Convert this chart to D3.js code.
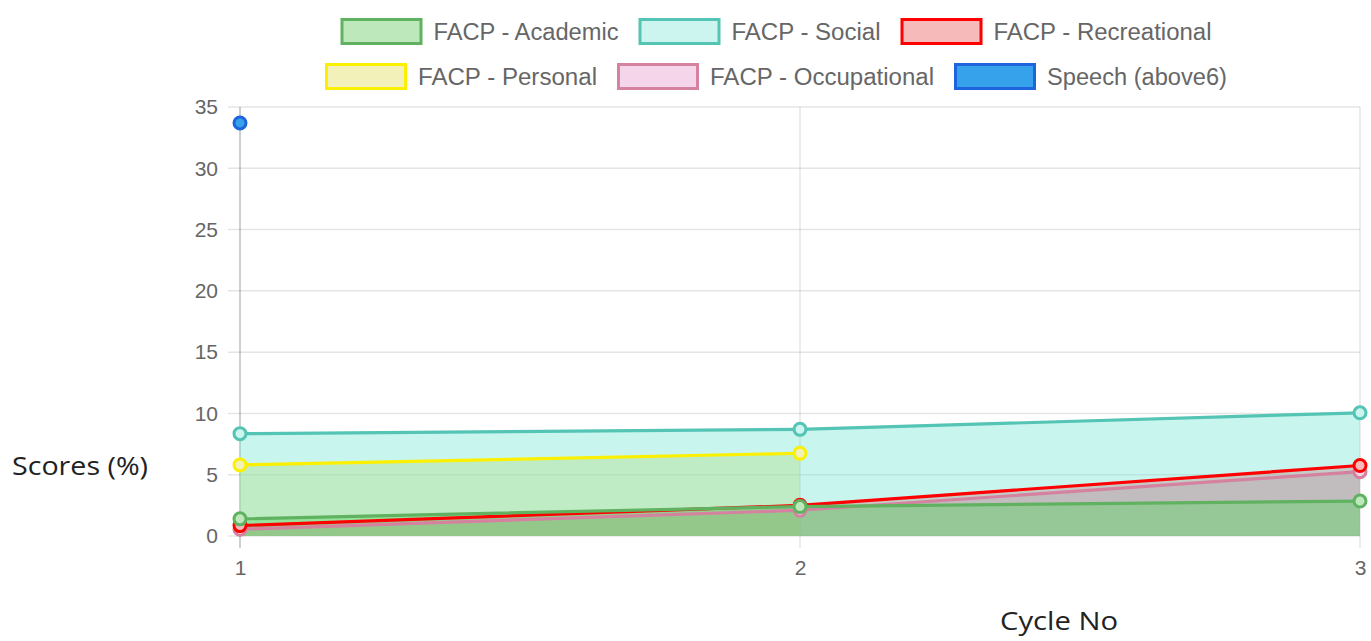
<!DOCTYPE html>
<html><head><meta charset="utf-8">
<script src="https://cdn.jsdelivr.net/npm/d3@7"></script>
<style>html,body{margin:0;padding:0;background:#fff;overflow:hidden}</style>
</head><body>
<svg id="chart" width="1371" height="641"></svg>
<script>
const cycles = [1, 2, 3];
const academic = [1.4, 2.4, 2.85];
const social = [8.35, 8.7, 10.05];
const recreational = [0.85, 2.5, 5.75];
const personal = [5.8, 6.75, null];
const occupational = [0.55, 2.1, 5.25];
const speech = [33.7, null, null];
const yTicks = [0, 5, 10, 15, 20, 25, 30, 35];
const seriesNames = ["FACP - Academic", "FACP - Social", "FACP - Recreational", "FACP - Personal", "FACP - Occupational", "Speech (above6)"];

const styles = [
  {stroke: "rgb(96,178,96)", fill: "rgba(86,215,92,0.4)", legendFill: "rgb(188,232,188)"},
  {stroke: "rgb(84,196,180)", fill: "rgba(120,230,215,0.4)", legendFill: "rgb(204,245,239)"},
  {stroke: "rgb(255,0,0)", fill: "rgba(240,100,100,0.45)", legendFill: "rgb(247,186,186)"},
  {stroke: "rgb(250,240,0)", fill: "rgba(220,220,80,0.4)", legendFill: "rgb(241,241,185)"},
  {stroke: "rgb(212,130,160)", fill: "rgba(230,150,200,0.4)", legendFill: "rgb(245,213,233)"},
  {stroke: "rgb(30,100,220)", fill: "rgb(54,162,235)", legendFill: "rgb(54,162,235)"}
];
const seriesData = [academic, social, recreational, personal, occupational, speech];
const legendTextWidths = [185, 149, 218, 179, 224, 180];

const svg = d3.select("#chart");
const x = d3.scalePoint().domain(cycles).range([240, 1360]);
const y = d3.scaleLinear().domain([0, 35]).range([536, 107]);

// grid
const grid = svg.append("g");
yTicks.forEach(t => {
  grid.append("line").attr("x1", 228).attr("x2", 1360).attr("y1", y(t)).attr("y2", y(t))
    .attr("stroke", "rgba(0,0,0,0.1)").attr("stroke-width", 1.5);
});
cycles.forEach((c, i) => {
  grid.append("line").attr("x1", x(c)).attr("x2", x(c)).attr("y1", 107).attr("y2", 548)
    .attr("stroke", i === 0 ? "rgba(0,0,0,0.25)" : "rgba(0,0,0,0.1)").attr("stroke-width", 1.5);
});

// tick labels
const yAxis = d3.axisLeft(y).tickValues(yTicks).tickSize(0).tickPadding(22);
const ya = svg.append("g").attr("transform", "translate(240,0)").call(yAxis);
ya.select(".domain").remove();
ya.selectAll("text").attr("font-family", "Liberation Sans, Arial, sans-serif").attr("font-size", 21).attr("fill", "#666");

const xAxis = d3.axisBottom(x).tickSize(0).tickPadding(24);
const xa = svg.append("g").attr("transform", "translate(0,536)").call(xAxis);
xa.select(".domain").remove();
xa.selectAll("text").attr("font-family", "Liberation Sans, Arial, sans-serif").attr("font-size", 21).attr("fill", "#666");

// fills (drawn last dataset first), then lines and points
const area = d3.area().defined(d => d.v !== null).x(d => x(d.c)).y0(y(0)).y1(d => y(d.v));
const line = d3.line().defined(d => d.v !== null).x(d => x(d.c)).y(d => y(d.v));
const order = [5, 4, 3, 2, 1, 0];
order.forEach(i => {
  const pts = cycles.map((c, k) => ({c, v: seriesData[i][k]}));
  svg.append("path").datum(pts).attr("d", area).attr("fill", styles[i].fill).attr("stroke", "none");
});
order.forEach(i => {
  const pts = cycles.map((c, k) => ({c, v: seriesData[i][k]}));
  svg.append("path").datum(pts).attr("d", line).attr("fill", "none")
    .attr("stroke", styles[i].stroke).attr("stroke-width", 3.2);
  svg.append("g").selectAll("circle").data(pts.filter(d => d.v !== null)).join("circle")
    .attr("cx", d => x(d.c)).attr("cy", d => y(d.v)).attr("r", 6)
    .attr("fill", styles[i].legendFill).attr("stroke", styles[i].stroke).attr("stroke-width", 3);
});

// legend
const rows = [[0, 1, 2], [3, 4, 5]];
const rowY = [31, 76];
const lg = svg.append("g");
rows.forEach((r, ri) => {
  const boxW = 82, gap = 11, sp = 20;
  const total = d3.sum(r, i => boxW + gap + legendTextWidths[i]) + sp * (r.length - 1);
  let cx = 776 - total / 2;
  r.forEach(i => {
    lg.append("rect").attr("x", cx + 1.5).attr("y", rowY[ri] - 11.5).attr("width", boxW - 3).attr("height", 24)
      .attr("fill", styles[i].legendFill).attr("stroke", styles[i].stroke).attr("stroke-width", 3);
    lg.append("text").text(seriesNames[i]).attr("x", cx + boxW + gap).attr("y", rowY[ri] + 1)
      .attr("font-family", "Liberation Sans, Arial, sans-serif").attr("font-size", 23).attr("fill", "#666")
      .attr("dominant-baseline", "central")
      .attr("textLength", legendTextWidths[i]).attr("lengthAdjust", "spacingAndGlyphs");
    cx += boxW + gap + legendTextWidths[i] + sp;
  });
});

// axis titles
svg.append("text").text("Scores (%)").attr("x", 12).attr("y", 465).attr("dominant-baseline", "central")
  .attr("font-family", "Open Sans, sans-serif").attr("font-size", 25).attr("fill", "#222")
  .attr("textLength", 136).attr("lengthAdjust", "spacingAndGlyphs");
svg.append("text").text("Cycle No").attr("x", 1000).attr("y", 620).attr("dominant-baseline", "central")
  .attr("font-family", "Open Sans, sans-serif").attr("font-size", 25).attr("fill", "#222")
  .attr("textLength", 118).attr("lengthAdjust", "spacingAndGlyphs");
</script>
</body></html>
